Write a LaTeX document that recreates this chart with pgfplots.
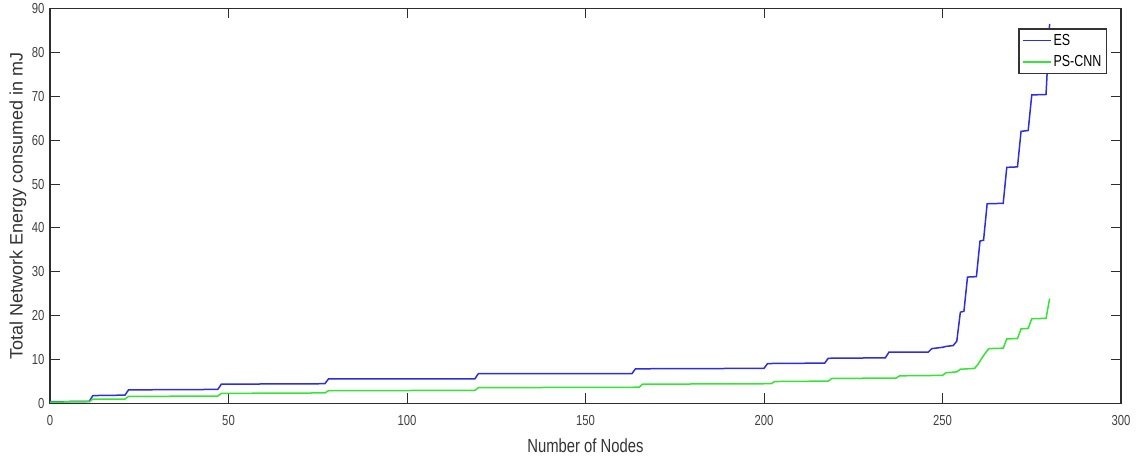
\documentclass[border=0pt]{standalone}
\usepackage{fontspec}
\setmainfont{Liberation Sans}
\newfontfamily\narrowfont[FakeStretch=0.78]{Liberation Sans}
\usepackage{pgfplots}
\pgfplotsset{compat=1.18}
\definecolor{esblue}{RGB}{45,45,225}
\definecolor{psgreen}{RGB}{50,230,50}
\definecolor{axgray}{RGB}{45,45,45}
\begin{document}
\begin{tikzpicture}
\begin{axis}[
  scale only axis,
  width=1071pt, height=395pt,
  xmin=0, xmax=300, ymin=0, ymax=90,
  xtick={0,50,...,300}, ytick={0,10,...,90},
  tick align=inside,
  major tick length=10pt,
  tick style={line width=1pt, color=axgray},
  axis line style={line width=1.2pt, color=axgray},
  tick label style={font=\narrowfont\fontsize{14.5}{14.5}\selectfont, text=black!75},
  /pgf/number format/assume math mode=true,
  xticklabel style={yshift=-8pt},
  yticklabel style={xshift=-2pt},
  xlabel={\narrowfont\fontsize{19}{19}\selectfont Number of Nodes},
  ylabel={\fontsize{18}{18}\selectfont Total Network Energy consumed in mJ},
  label style={text=black!80},
  xlabel style={at={(axis description cs:0.5,0)}, anchor=center, yshift=-42pt},
  ylabel style={at={(axis description cs:0,0.5)}, anchor=center, xshift=0pt, yshift=32pt},
  legend style={at={(axis description cs:1,1)}, anchor=north east,
    xshift=-14pt, yshift=-20pt, font=\narrowfont\fontsize{16}{16}\selectfont,
    draw=black!80, line width=1.2pt, inner xsep=3pt, inner ysep=3pt,
    row sep=5pt, fill=white},
  legend cell align=left,
  legend image code/.code={\draw[#1, line width=1.5pt] (0pt,0pt) -- (28pt,0pt);},
]
\addplot[esblue, line width=1.5pt] coordinates {
(0,0.4) (11,0.5) (12,1.8) (21,1.9) (22,3.1) (47,3.2) (48,4.4) (77,4.5) (78,5.6)
(119,5.6) (120,6.8) (163,6.8) (164,7.9) (200,8.0) (201,9.1) (217,9.2) (218,10.3)
(234,10.4) (235,11.7) (246,11.7) (247,12.5) (250,12.8) (251,13.0) (253,13.2)
(254,14.2) (255,20.8) (256,21.0) (257,28.8) (259.5,28.9) (260.5,37.0) (261.5,37.2)
(262.5,45.5) (267,45.6) (268,53.8) (271,53.9) (272,62.0) (274,62.2) (275,70.3)
(279,70.4) (280,86.5)
};
\addlegendentry{ES}
\addplot[psgreen, line width=1.5pt] coordinates {
(0,0.3) (11,0.4) (12,1.0) (21,1.0) (22,1.6) (47,1.7) (48,2.3) (77,2.4) (78,2.9)
(119,3.0) (120,3.6) (165,3.7) (166,4.4) (202,4.5) (203,5.0) (218,5.1) (219,5.7)
(237,5.8) (238,6.3) (250,6.4) (251,7.0) (254,7.2) (255,7.8) (259,8.0) (260,9.0)
(261,10.3) (262,11.5) (263,12.5) (267,12.6) (268,14.7) (271,14.8) (272,17.0)
(274,17.1) (275,19.3) (279,19.4) (280,23.9)
};
\addlegendentry{PS-CNN}
\end{axis}
\path ([xshift=-50pt,yshift=-56pt]current axis.south west) rectangle ([xshift=19pt,yshift=8pt]current axis.north east);
\end{tikzpicture}
\end{document}
